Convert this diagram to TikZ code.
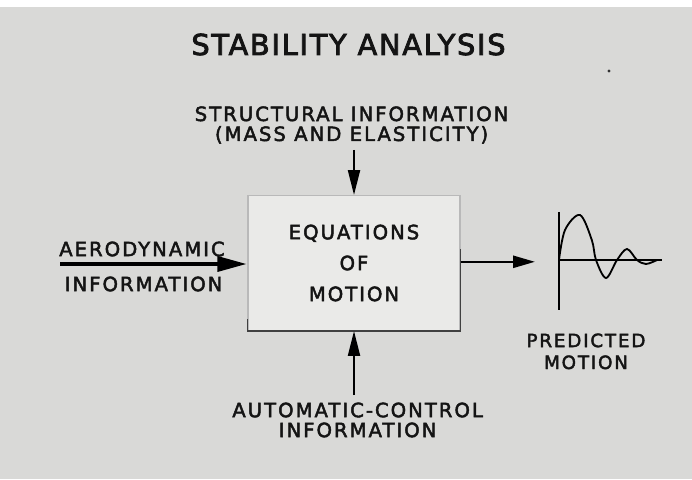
\documentclass[tikz,border=0pt]{standalone}
\usepackage{fontspec}
\newfontfamily\lettering[LetterSpace=10,FakeBold=2.4]{DejaVu Sans}
\newfontfamily\titlelettering[LetterSpace=6,FakeBold=2.8]{DejaVu Sans}
\usetikzlibrary{arrows.meta}
\definecolor{slidegray}{RGB}{217,217,215}
\definecolor{cardgray}{RGB}{234,234,232}

\begin{document}
\begin{tikzpicture}[every node/.style={inner sep=0pt,text=black!92},
  lettered/.style={font=\lettering\fontsize{14}{14.2}\selectfont,align=center},
  mainarrow/.style={-{Triangle[length=0.75cm,width=0.36cm]},line width=3.5pt},
  feedarrow/.style={-{Triangle[length=0.62cm,width=0.3cm]},line width=1.4pt},
  outarrow/.style={-{Triangle[length=0.55cm,width=0.3cm]},line width=1.8pt}]
% Stability analysis: inputs to the equations of motion
\useasboundingbox (0,0) rectangle (17.3,11.975);
\fill[white] (0,0) rectangle (17.3,11.975);
\fill[slidegray] (0,0) rectangle (17.3,11.8);
\node[font=\titlelettering\fontsize{20.5}{24}\selectfont] (title) at (8.7125,10.8625) {STABILITY ANALYSIS};
\fill[black!80] (15.225,10.2) circle (0.04);
\node[lettered] (struct) at (8.79,8.85) {STRUCTURAL INFORMATION\\(MASS AND ELASTICITY)};
\node[draw=gray!55,line width=0.8pt,fill=cardgray,minimum width=5.3cm,minimum height=3.375cm,align=center,font=\lettering\fontsize{14}{22}\selectfont] (eom) at (8.85,5.4) {EQUATIONS\\OF\\MOTION};
\draw[line width=1.2pt,black!75] ([yshift=0.3cm]eom.south west) -- (eom.south west) -- (eom.south east) -- ([yshift=2.06cm]eom.south east);
\node[lettered] (aero) at (3.55,5.75) {AERODYNAMIC};
\node[lettered] (aeroinfo) at (3.59,4.875) {INFORMATION};
\node[lettered] (auto) at (8.94,1.475) {AUTOMATIC-CONTROL\\INFORMATION};
\node[lettered,font=\lettering\fontsize{13}{15.6}\selectfont] (predicted) at (14.65,3.19) {PREDICTED\\MOTION};
\coordinate (aerotail) at (1.5,5.375);
\coordinate (sdrop) at ([yshift=-0.15cm]struct.south);
\coordinate (arise) at ([yshift=0.18cm]auto.north);
\coordinate (outtip) at (13.375,5.43);
\coordinate (origin) at (13.975,5.475);
\draw[mainarrow] (aerotail) -- (aerotail -| eom.west);
\draw[feedarrow] (eom.north |- sdrop) -- (eom.north);
\draw[feedarrow] (eom.south |- arise) -- (eom.south);
\draw[outarrow] (eom.east |- outtip) -- (outtip);
% response sketch
\draw[line width=1.4pt] (origin |- 0,6.675) -- (origin |- 0,4.225);
\draw[line width=1.3pt] (origin) -- ++(2.575,0);
\draw[line width=1.3pt,shift={(origin)}] plot[smooth,tension=0.55] coordinates {(0,0) (0.15,0.75) (0.525,1.125) (0.82,0.5) (0.925,0) (1.175,-0.45) (1.45,0) (1.7,0.275) (1.95,0) (2.175,-0.1) (2.45,0)};
\end{tikzpicture}
\end{document}
